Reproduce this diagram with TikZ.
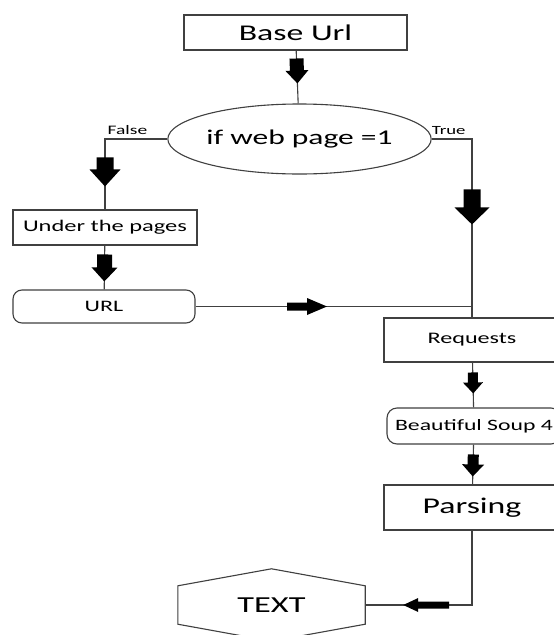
\documentclass[tikz,border=0pt]{standalone}
\usepackage{fontspec}
\setmainfont{Carlito}[FakeStretch=1.5]
\usetikzlibrary{shapes.geometric, decorations.markings, calc}

\definecolor{linegray}{HTML}{404040}

\tikzset{
  box/.style={draw=linegray, line width=1.1pt, inner sep=0pt},
  link/.style={draw=linegray, line width=1.1pt},
  % block arrow on a connector: tip position / shaft length / shaft width / head width / head length
  blk/.style args={#1/#2/#3/#4/#5}{postaction={decorate, decoration={markings,
    mark=at position #1 with {\fill[black] (0pt,0pt) -- ({-#5*1pt},{#4*0.5pt}) -- ({-#5*1pt},{#3*0.5pt})
      -- ({-(#5+#2)*1pt},{#3*0.5pt}) -- ({-(#5+#2)*1pt},{-#3*0.5pt}) -- ({-#5*1pt},{-#3*0.5pt})
      -- ({-#5*1pt},{-#4*0.5pt}) -- cycle;}}}},
  fs/.style={font=\fontsize{#1}{#1}\selectfont}
}

\begin{document}
\begin{tikzpicture}[x=1pt, y=-1pt]
    \path[use as bounding box, clip] (0,0) rectangle (554,635);
    \fill[white] (0,0) rectangle (554,635);

    % Boxes
    \node[box, fs=22.5, minimum width=223pt, minimum height=35pt] (base) at (295.5,32.5) {Base Url};
    \node[box, ellipse, fs=21, minimum width=225pt, minimum height=70pt] (cond) at (299.5,139) {if web page =1};
    \node[box, fs=16.3, minimum width=184pt, minimum height=35pt] (under) at (105,227.5) {Under the pages};
    \node[box, rounded corners=9pt, fs=16, minimum width=182pt, minimum height=33pt] (url) at (104,306.5) {URL};
    \node[box, fs=16.1, minimum width=176pt, minimum height=44pt] (req) at (472,340) {Requests};
    \node[box, rounded corners=10pt, fs=15.8, minimum width=174pt, minimum height=36pt] (soup) at (474,426) {Beautiful Soup 4};
    \node[box, fs=22.5, minimum width=176pt, minimum height=45pt] (parse) at (472,507.5) {Parsing};

    % Hexagon
    \node[inner sep=0pt, fs=22.9, minimum width=187pt, minimum height=72pt] (txt) at (271.5,605) {TEXT};
    \draw[link] (txt.north) -- ($(txt.north east)+(0,17)$) -- ($(txt.south east)+(0,-17)$) -- (txt.south)
        -- ($(txt.south west)+(0,-17)$) -- ($(txt.north west)+(0,17)$) -- cycle;

    % Connectors
    \draw[link, blk={-20pt/12/14/23/13}] (base) -- (cond);
    \draw[link, blk={-23pt/12/17/31/17}] (cond.west) -| node[pos=0.32, above=1pt, fs=13] {False} (under.north);
    \draw[link, blk={-8pt/13/15/26/14}] (under) -- (url);
    \draw[link, blk={-93pt/18/17/35/17}] (cond.east) -| node[pos=0.21, above=1pt, fs=12.5] {True} (req.north);
    \draw[link, blk={-145pt/20/8/17/20}] (url.east) -- (url.east -| req.north);
    \draw[link, blk={-14pt/10/10/20/11}] (req) -- (soup);
    \draw[link, blk={-8pt/10/11/22/12}] (soup) -- (parse);
    \draw[link, blk={-38pt/31/7/14/15}] (parse.south) |- (txt.east);
\end{tikzpicture}
\end{document}
